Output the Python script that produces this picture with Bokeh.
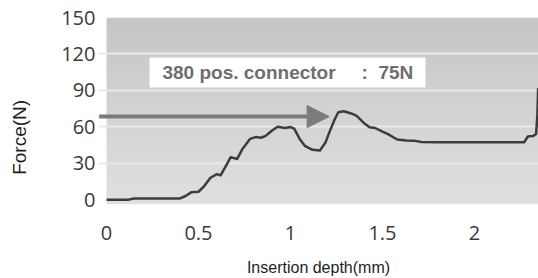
import numpy as np
from bokeh.plotting import figure
from bokeh.models import Range1d, FixedTicker, Label, Arrow, NormalHead
from bokeh.embed import file_html
from bokeh.resources import INLINE

# ---- data ----
depth_mm = [0.00, 0.12, 0.15, 0.30, 0.40, 0.43, 0.46, 0.50, 0.53, 0.565, 0.60, 0.62,
            0.65, 0.675, 0.71, 0.74, 0.78, 0.81, 0.84, 0.865, 0.90, 0.93, 0.97, 1.00,
            1.02, 1.05, 1.08, 1.12, 1.16, 1.19, 1.21, 1.24, 1.26, 1.29, 1.33, 1.36,
            1.40, 1.43, 1.46, 1.50, 1.53, 1.58, 1.63, 1.67, 1.71, 1.80, 2.00, 2.20,
            2.27, 2.29, 2.32, 2.335, 2.342, 2.346]
force_n = [0.0, 0.0, 1.0, 1.0, 1.0, 3.0, 6.0, 6.5, 11.0, 18.0, 21.0, 20.0,
           28.0, 35.0, 33.5, 42.0, 50.0, 51.5, 51.0, 52.5, 57.0, 60.0, 59.0, 59.8,
           58.5, 50.0, 44.0, 41.0, 40.5, 47.0, 55.0, 66.0, 72.0, 72.8, 71.0, 69.0,
           63.0, 59.6, 59.0, 56.0, 54.0, 49.5, 48.8, 48.6, 47.5, 47.2, 47.2, 47.2,
           47.2, 52.0, 52.5, 54.0, 70.0, 92.0]

x_ticks = [0, 0.5, 1, 1.5, 2]
x_tick_labels = ["0", "0.5", "1", "1.5", "2"]
y_ticks = [0, 30, 60, 90, 120, 150]
y_tick_labels = ["0", "30", "60", "90", "120", "150"]

note_name = "380 pos. connector"
note_value = ":\u00a0\u00a075N"
arrow_level = 68.4
arrow_x_from = -0.04
arrow_x_to = 1.21

# ---- figure ----
p = figure(width=538, height=278, output_backend="svg", toolbar_location=None,
           x_range=Range1d(-0.0435, 2.348), y_range=Range1d(-4, 150),
           min_border_left=98, min_border_right=0, min_border_top=17, min_border_bottom=74)
p.outline_line_color = None
p.background_fill_color = "white"
p.border_fill_color = "white"

# gradient background of the plot area
ny = 64
g = np.linspace(0, 1, ny)
top_c, bot_c = np.array([198, 198, 198]), np.array([224, 224, 224])
img = np.zeros((ny, 2), dtype=np.uint32)
view = img.view(dtype=np.uint8).reshape((ny, 2, 4))
for i in range(ny):
    c = bot_c + (top_c - bot_c) * g[i]
    view[i, :, 0] = int(c[0]); view[i, :, 1] = int(c[1]); view[i, :, 2] = int(c[2]); view[i, :, 3] = 255
p.image_rgba(image=[img], x=0, y=-4, dw=2.348, dh=154, level="image")

# grid
p.xgrid.visible = False
p.ygrid.ticker = FixedTicker(ticks=[30, 60, 90, 120, 150])
p.ygrid.grid_line_color = "#e9e9e9"
p.ygrid.grid_line_width = 2
p.ygrid.level = "underlay"

# white note box
p.quad(left=[0.234], right=[1.734], bottom=[92.3], top=[117.0],
       fill_color="white", line_color=None)
for tx, txt in ((0.304, note_name), (1.386, note_value)):
    p.add_layout(Label(x=tx, y=104.6, text=txt, text_font="Liberation Sans",
                       text_font_style="bold", text_font_size="19px", text_color="#6e6e6e",
                       text_baseline="middle", text_align="left"))

# arrow
p.add_layout(Arrow(x_start=arrow_x_from, y_start=arrow_level, x_end=arrow_x_to, y_end=arrow_level,
                   line_color="#7b7b7b", line_width=4,
                   end=NormalHead(size=22, fill_color="#7b7b7b", line_color="#7b7b7b")))

# curve
p.line(depth_mm, force_n, line_color="#3c3c3c", line_width=2.5, line_join="round")

# axes
for ax in (p.xaxis, p.yaxis):
    ax.axis_line_color = None
    ax.major_tick_line_color = None
    ax.minor_tick_line_color = None
    ax.major_tick_out = 0
    ax.major_tick_in = 0
    ax.major_label_text_font = "Open Sans"
    ax.major_label_text_font_size = "20px"
    ax.major_label_text_color = "#3a3a3a"
    ax.axis_label_text_font = "Liberation Sans"
    ax.axis_label_text_font_style = "normal"
    ax.axis_label_text_color = "#1e1e1e"

p.xaxis.ticker = FixedTicker(ticks=x_ticks)
p.xaxis.major_label_overrides = {t: l for t, l in zip(x_ticks, x_tick_labels)}
p.xaxis.major_label_standoff = 21
p.xaxis.axis_label = "Insertion depth(mm)"
p.xaxis.axis_label_text_font_size = "16px"
p.xaxis.axis_label_standoff = 16

p.yaxis.ticker = FixedTicker(ticks=y_ticks)
p.yaxis.major_label_overrides = {t: l for t, l in zip(y_ticks, y_tick_labels)}
p.yaxis.major_label_standoff = 3
p.yaxis.axis_label = "Force(N)" + "\u00a0" * 10
p.yaxis.axis_label_text_font_size = "19px"
p.yaxis.axis_label_standoff = 28

open("out.html", "w").write(file_html(p, INLINE))
